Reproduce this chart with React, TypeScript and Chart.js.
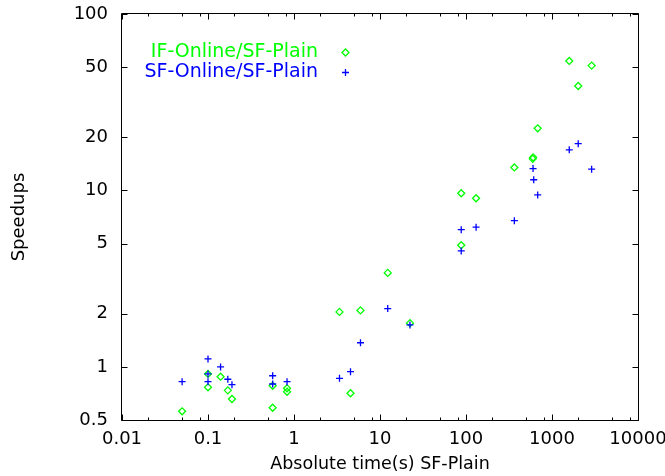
import React, { useEffect, useRef } from "react";
import { Chart, registerables } from "chart.js";

Chart.register(...registerables);

// IF-Online / SF-Plain speedups
const IF_X = [0.05, 0.1, 0.1, 0.14, 0.17, 0.19, 0.565, 0.565, 0.83, 0.83, 3.38, 4.54, 5.93, 12.3, 22.3, 88, 88, 131, 365, 602, 597, 682, 1588, 2018, 2890];
const IF_Y = [0.56, 0.912, 0.766, 0.88, 0.736, 0.658, 0.782, 0.587, 0.756, 0.723, 2.05, 0.709, 2.09, 3.41, 1.77, 9.64, 4.89, 9.03, 13.5, 15.4, 15.1, 22.5, 54.2, 39.1, 51.0];

// SF-Online / SF-Plain speedups
const SF_X = [0.05, 0.1, 0.1, 0.1, 0.14, 0.17, 0.19, 0.565, 0.565, 0.83, 3.38, 4.54, 5.93, 12.3, 22.3, 88, 88, 131, 365, 613, 602, 682, 1588, 2018, 2890];
const SF_Y = [0.824, 1.11, 0.912, 0.824, 1.0, 0.851, 0.793, 0.891, 0.8, 0.824, 0.861, 0.94, 1.37, 2.14, 1.73, 5.99, 4.54, 6.19, 6.74, 11.5, 13.3, 9.43, 17.0, 18.4, 13.2];

const X_TICKS = [0.01, 0.1, 1, 10, 100, 1000, 10000];
const X_LABELS = ["0.01", "0.1", "1", "10", "100", "1000", "10000"];
const Y_TICKS = [0.5, 1, 2, 5, 10, 20, 50, 100];
const Y_LABELS = ["0.5", "1", "2", "5", "10", "20", "50", "100"];

const SERIES_NAMES = ["IF-Online/SF-Plain", "SF-Online/SF-Plain"];
const GREEN = "#00ff00";
const BLUE = "#0000ff";
const FONT = "'DejaVu Sans', sans-serif";

const framePlugin = {
  id: "frame",
  afterDraw(chart: any) {
    const { ctx, chartArea } = chart;
    const xs = chart.scales.x;
    const ys = chart.scales.y;
    const L = Math.round(chartArea.left) - 0.5;
    const R = Math.round(chartArea.right) + 0.5;
    const T = Math.round(chartArea.top) - 0.5;
    const B = Math.round(chartArea.bottom) + 0.5;
    ctx.save();
    ctx.strokeStyle = "#000";
    ctx.lineWidth = 1;
    ctx.beginPath();
    ctx.rect(L, T, R - L, B - T);
    ctx.stroke();
    // x ticks (major + minor at 2,5,8)
    ctx.beginPath();
    for (let d = 0; d < X_TICKS.length; d++) {
      const v = X_TICKS[d];
      const px = Math.round(xs.getPixelForValue(v)) + 0.5;
      ctx.moveTo(px, B); ctx.lineTo(px, B - 6);
      ctx.moveTo(px, T); ctx.lineTo(px, T + 6);
      if (d < X_TICKS.length - 1) {
        for (const m of [2, 5, 8]) {
          const pm = Math.round(xs.getPixelForValue(v * m)) + 0.5;
          ctx.moveTo(pm, B); ctx.lineTo(pm, B - 3);
          ctx.moveTo(pm, T); ctx.lineTo(pm, T + 3);
        }
      }
    }
    for (const v of Y_TICKS) {
      const py = Math.round(ys.getPixelForValue(v)) + 0.5;
      ctx.moveTo(L, py); ctx.lineTo(L + 6, py);
      ctx.moveTo(R, py); ctx.lineTo(R - 6, py);
    }
    ctx.stroke();

    // legend
    ctx.font = `19px ${FONT}`;
    ctx.textAlign = "right";
    ctx.textBaseline = "middle";
    const tx = 318;
    const rows = [52, 72];
    const colors = [GREEN, BLUE];
    for (let i = 0; i < 2; i++) {
      ctx.fillStyle = colors[i];
      ctx.fillText(SERIES_NAMES[i], tx, rows[i]);
      ctx.strokeStyle = colors[i];
      ctx.lineWidth = 1.3;
      ctx.beginPath();
      const mx = 345.5, my = rows[i] + 0.5;
      if (i === 0) {
        ctx.moveTo(mx - 3.5, my); ctx.lineTo(mx, my - 3.5); ctx.lineTo(mx + 3.5, my); ctx.lineTo(mx, my + 3.5); ctx.closePath();
      } else {
        ctx.moveTo(mx - 3.5, my); ctx.lineTo(mx + 3.5, my); ctx.moveTo(mx, my - 3.5); ctx.lineTo(mx, my + 3.5);
      }
      ctx.stroke();
    }
    ctx.restore();
  },
};

export default function App() {
  const ref = useRef<HTMLCanvasElement | null>(null);
  useEffect(() => {
    if (!ref.current) return;
    const chart = new Chart(ref.current, {
      type: "scatter",
      data: {
        datasets: [
          {
            label: SERIES_NAMES[0],
            data: IF_X.map((x, i) => ({ x, y: IF_Y[i] })),
            pointStyle: "rectRot",
            radius: 3.5,
            borderColor: GREEN,
            backgroundColor: "rgba(0,0,0,0)",
            borderWidth: 1.3,
            order: 1,
          },
          {
            label: SERIES_NAMES[1],
            data: SF_X.map((x, i) => ({ x, y: SF_Y[i] })),
            pointStyle: "cross",
            radius: 3.5,
            borderColor: BLUE,
            backgroundColor: BLUE,
            borderWidth: 1.3,
            order: 0,
          },
        ],
      },
      options: {
        animation: false,
        responsive: false,
        events: [],
        layout: { padding: { top: 14, right: 27, left: 0, bottom: 0 } },
        plugins: { legend: { display: false }, tooltip: { enabled: false } },
        scales: {
          x: {
            type: "logarithmic",
            min: 0.01,
            max: 10000,
            grid: { display: false, drawTicks: false },
            border: { display: false },
            afterBuildTicks: (s: any) => { s.ticks = X_TICKS.map((v) => ({ value: v })); },
            afterFit: (s: any) => { s.height = 56; s.paddingLeft = 0; s.paddingRight = 0; },
            ticks: {
              autoSkip: false,
              maxRotation: 0,
              padding: 9,
              color: "#000",
              font: { family: FONT, size: 18 },
              callback: (_v: any, i: number) => X_LABELS[i],
            },
            title: {
              display: true,
              text: "Absolute time(s) SF-Plain",
              color: "#000",
              font: { family: FONT, size: 17.5 },
              padding: { top: 0, bottom: 1 },
            },
          },
          y: {
            type: "logarithmic",
            min: 0.5,
            max: 100,
            grid: { display: false, drawTicks: false },
            border: { display: false },
            afterBuildTicks: (s: any) => { s.ticks = Y_TICKS.map((v) => ({ value: v })); },
            afterFit: (s: any) => { s.width = 122; s.paddingTop = 0; s.paddingBottom = 0; },
            ticks: {
              autoSkip: false,
              padding: 14,
              color: "#000",
              font: { family: FONT, size: 18 },
              callback: (_v: any, i: number) => Y_LABELS[i],
            },
            title: {
              display: true,
              text: "Speedups",
              color: "#000",
              font: { family: FONT, size: 18 },
              padding: { top: 9, bottom: 0 },
            },
          },
        },
      },
      plugins: [framePlugin],
    } as any);
    return () => chart.destroy();
  }, []);
  return (
    <div style={{ position: "fixed", left: 0, top: 0, width: 665, height: 476, background: "#fff" }}>
      <canvas ref={ref} width={665} height={476} style={{ display: "block" }} />
    </div>
  );
}
